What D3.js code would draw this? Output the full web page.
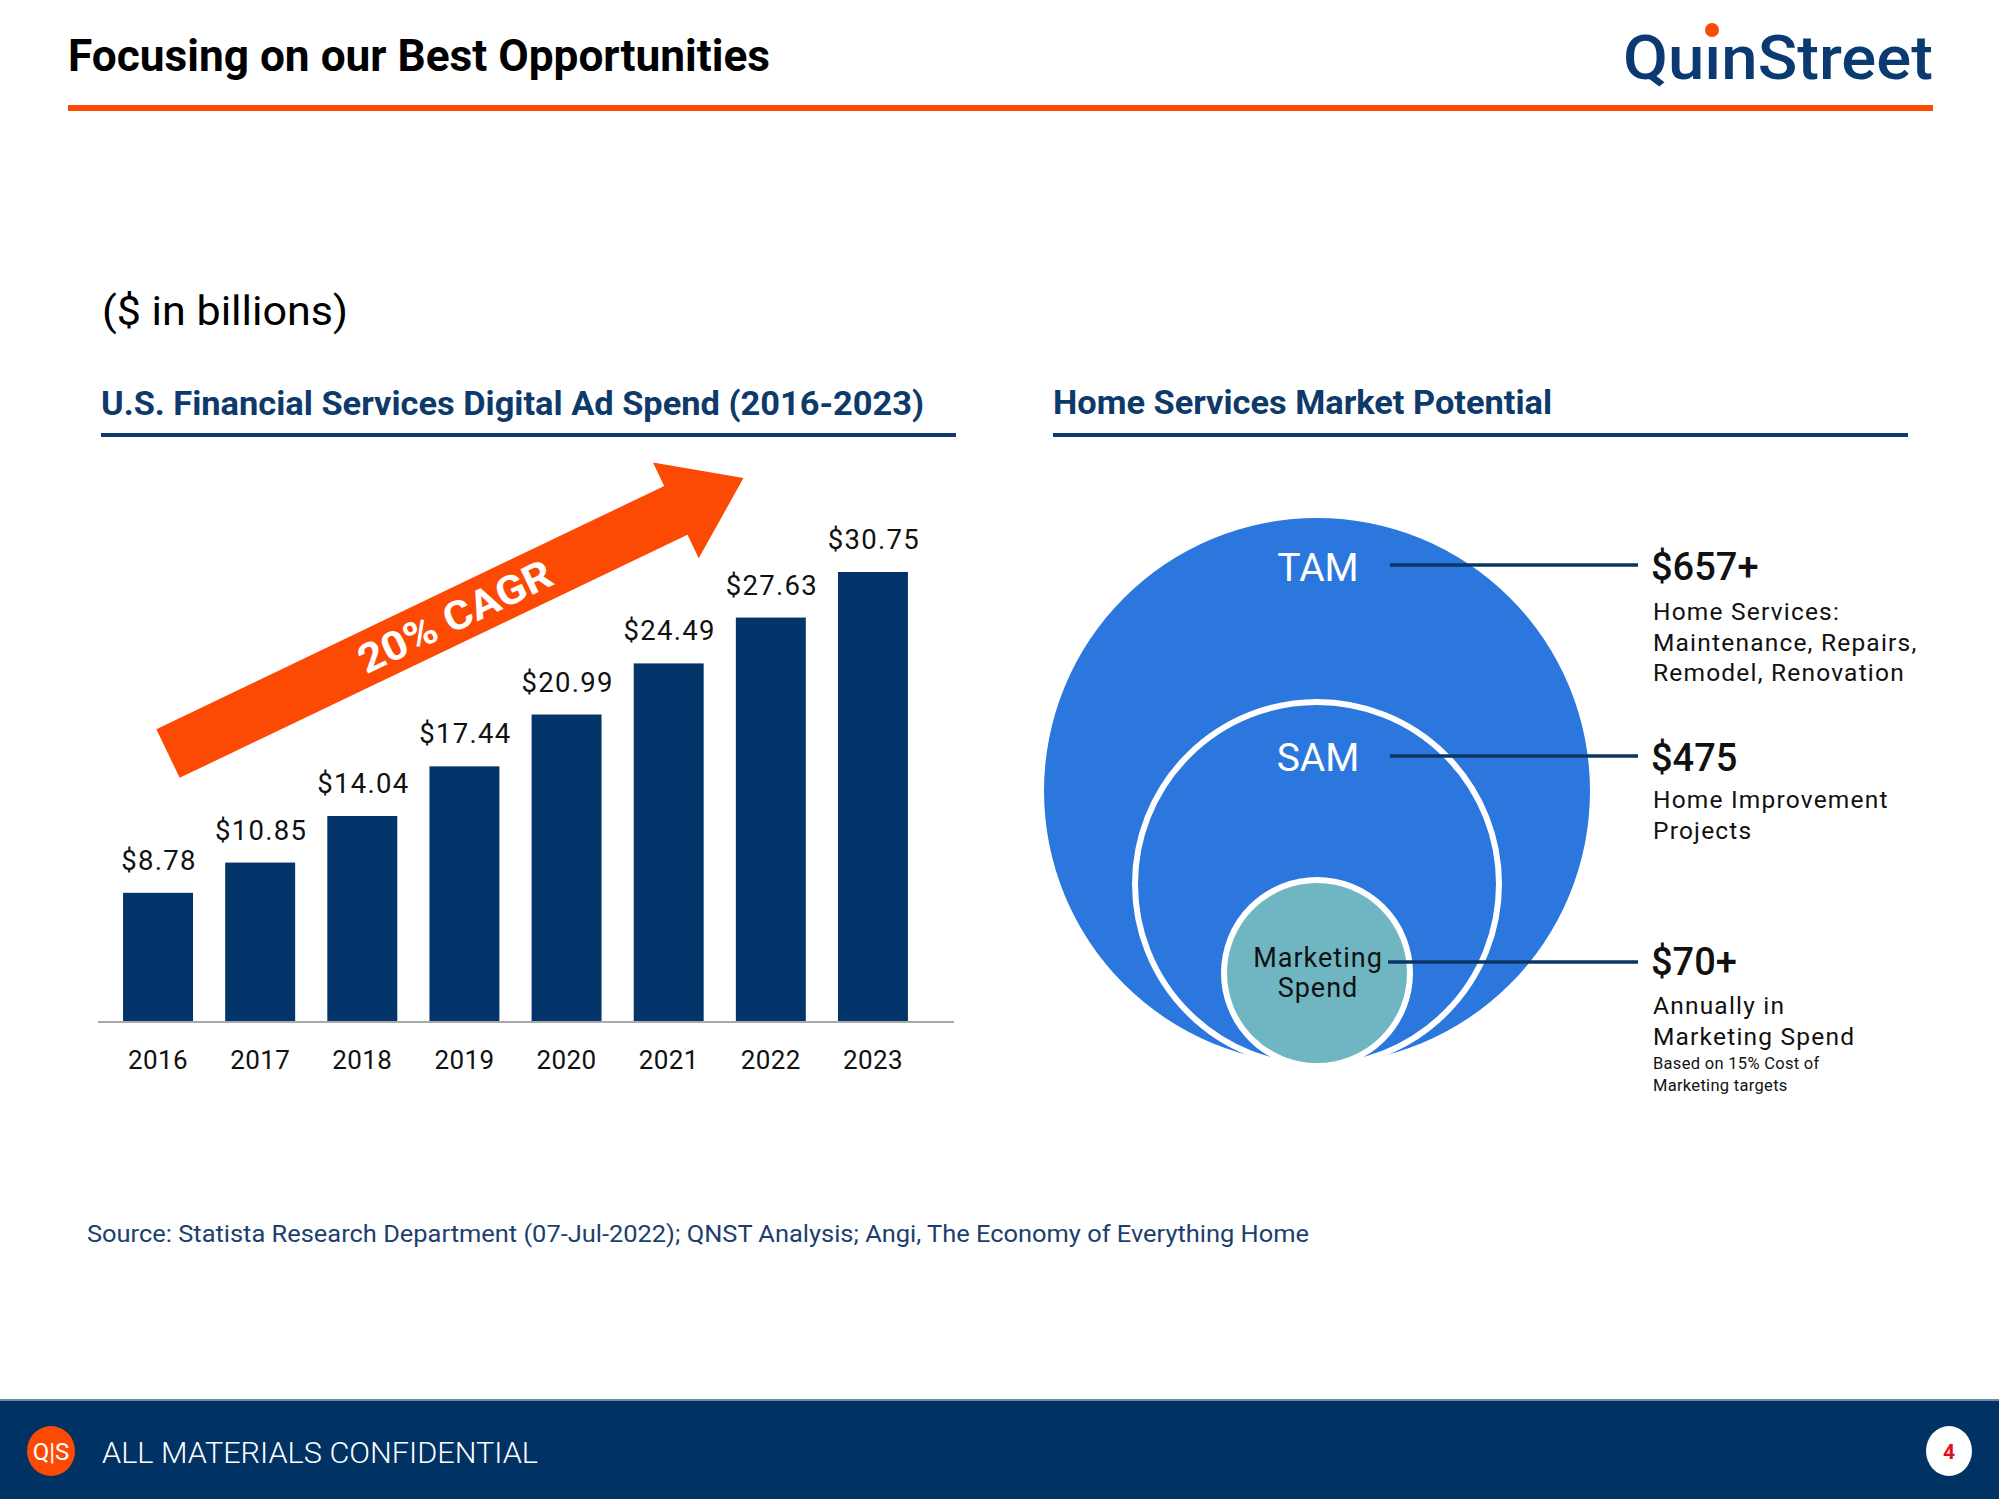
<!DOCTYPE html>
<html>
<head>
<meta charset="utf-8">
<script src="https://cdn.jsdelivr.net/npm/d3@7"></script>
<style>
  html, body { margin: 0; padding: 0; background: #fff; }
  svg { display: block; }
  text { font-family: Roboto, "Noto Sans", sans-serif; }
</style>
</head>
<body>
<svg id="chart" width="1999" height="1499"></svg>
<script>
// ---------- DATA ----------
const years = ['2016', '2017', '2018', '2019', '2020', '2021', '2022', '2023'];
const adSpend = [8.78, 10.85, 14.04, 17.44, 20.99, 24.49, 27.63, 30.75];
const cagrLabel = '20% CAGR';
const marketTiers = ['TAM', 'SAM', 'Marketing Spend'];
const marketValues = ['$657+', '$475', '$70+'];
const marketDescriptions = [
  ['Home Services:', 'Maintenance, Repairs,', 'Remodel, Renovation'],
  ['Home Improvement', 'Projects'],
  ['Annually in', 'Marketing Spend']
];
const marketNotes = [[], [], ['Based on 15% Cost of', 'Marketing targets']];

// ---------- STYLE ----------
const NAVY = '#03356b';
const ORANGE = '#fc4a05';
const BLUE = '#2c77de';
const TEAL = '#70b6c2';

const svg = d3.select('#chart');
function fit(sel, w) { return sel.attr('textLength', w).attr('lengthAdjust', 'spacingAndGlyphs'); }

// ---------- HEADER ----------
fit(svg.append('text').attr('x', 68).attr('y', 71)
  .attr('font-size', 44).attr('font-weight', 700).attr('fill', '#000')
  .text('Focusing on our Best Opportunities'), 702);

fit(svg.append('text').attr('x', 1623).attr('y', 79)
  .attr('font-size', 62).attr('font-weight', 500).attr('fill', '#0b3a73')
  .text('Qu\u0131nStreet'), 310);
svg.append('circle').attr('cx', 1712).attr('cy', 30).attr('r', 7).attr('fill', ORANGE);

svg.append('rect').attr('x', 68).attr('y', 105).attr('width', 1865).attr('height', 6).attr('fill', ORANGE);

fit(svg.append('text').attr('x', 102).attr('y', 325)
  .attr('font-size', 41).attr('font-weight', 400).attr('fill', '#000')
  .text('($ in billions)'), 246);

// section titles
fit(svg.append('text').attr('x', 101).attr('y', 415)
  .attr('font-size', 34).attr('font-weight', 700).attr('fill', '#0d3a6b')
  .text('U.S. Financial Services Digital Ad Spend (2016-2023)'), 823);
svg.append('rect').attr('x', 101).attr('y', 433).attr('width', 855).attr('height', 4).attr('fill', '#0d3a6b');

fit(svg.append('text').attr('x', 1053).attr('y', 414)
  .attr('font-size', 34).attr('font-weight', 700).attr('fill', '#0d3a6b')
  .text('Home Services Market Potential'), 499);
svg.append('rect').attr('x', 1053).attr('y', 433).attr('width', 855).attr('height', 4).attr('fill', '#0d3a6b');

// ---------- BAR CHART ----------
const x = d3.scaleBand().domain(years).range([72, 959]).paddingInner(0.315).paddingOuter(0.5);
const y = d3.scaleLinear().domain([0, 30.75]).range([1021, 572]);

const barG = svg.append('g');
barG.selectAll('rect.bar').data(adSpend).join('rect')
  .attr('class', 'bar')
  .attr('x', (d, i) => x(years[i]))
  .attr('width', x.bandwidth())
  .attr('y', d => y(d))
  .attr('height', d => y(0) - y(d))
  .attr('fill', NAVY);

barG.selectAll('text.val').data(adSpend).join('text')
  .attr('class', 'val')
  .attr('x', (d, i) => x(years[i]) + x.bandwidth() / 2 + 1)
  .attr('y', d => y(d) - 23)
  .attr('text-anchor', 'middle')
  .attr('font-size', 27.5).attr('letter-spacing', 1.3).attr('fill', '#111')
  .text(d => '$' + d.toFixed(2));

svg.append('line').attr('x1', 98).attr('x2', 954).attr('y1', y(0) + 1).attr('y2', y(0) + 1)
  .attr('stroke', '#a9a9a9').attr('stroke-width', 2);

const xAxis = svg.append('g').attr('transform', `translate(0,${y(0)})`)
  .call(d3.axisBottom(x).tickSize(0).tickPadding(30));
xAxis.select('.domain').remove();
xAxis.selectAll('text').attr('font-size', 26).attr('fill', '#111')
  .attr('font-family', 'Roboto, sans-serif').attr('letter-spacing', 0.4);

// CAGR arrow
const tail = [168, 753.5], tip = [743.5, 478];
const ang = Math.atan2(tip[1] - tail[1], tip[0] - tail[0]);
const L = Math.hypot(tip[0] - tail[0], tip[1] - tail[1]);
const sw = 27, hw = 53, hl = 75;
const arrowG = svg.append('g')
  .attr('transform', `translate(${tail[0]},${tail[1]}) rotate(${ang * 180 / Math.PI})`);
const ap = d3.path();
ap.moveTo(0, -sw); ap.lineTo(L - hl, -sw); ap.lineTo(L - hl, -hw); ap.lineTo(L, 0);
ap.lineTo(L - hl, hw); ap.lineTo(L - hl, sw); ap.lineTo(0, sw); ap.closePath();
arrowG.append('path').attr('d', ap.toString()).attr('fill', ORANGE);
fit(arrowG.append('text').attr('x', 318).attr('y', 0).attr('dy', '0.36em')
  .attr('text-anchor', 'middle').attr('font-size', 40).attr('font-weight', 700)
  .attr('fill', '#fff').text(cagrLabel), 210);

// ---------- CIRCLES ----------
const cx = 1317, bottom = 1066;
const radii = [273, 182, 93];
const fills = [BLUE, BLUE, TEAL];
const cG = svg.append('g');
cG.selectAll('circle').data(marketTiers).join('circle')
  .attr('cx', cx)
  .attr('cy', (d, i) => (i === 0 ? bottom - 2 : bottom) - radii[i])
  .attr('r', (d, i) => radii[i])
  .attr('fill', (d, i) => fills[i])
  .attr('stroke', (d, i) => i === 0 ? 'none' : '#fff')
  .attr('stroke-width', 6);

// labels in circles
cG.append('text').attr('x', cx + 1).attr('y', 581).attr('text-anchor', 'middle')
  .attr('font-size', 39).attr('fill', '#fff').text(marketTiers[0]);
cG.append('text').attr('x', cx + 1).attr('y', 771).attr('text-anchor', 'middle')
  .attr('font-size', 39).attr('fill', '#fff').text(marketTiers[1]);
const mWords = marketTiers[2].split(' ');
cG.selectAll('text.m').data(mWords).join('text').attr('class', 'm')
  .attr('x', cx + 1).attr('y', (d, i) => 967 + i * 30).attr('text-anchor', 'middle')
  .attr('font-size', 27).attr('letter-spacing', 1).attr('fill', '#111').text(d => d);

// connectors
const lineY = [565, 756, 962];
const lineX0 = [1390, 1390, 1388];
svg.selectAll('line.conn').data(lineY).join('line').attr('class', 'conn')
  .attr('x1', (d, i) => lineX0[i]).attr('x2', 1638)
  .attr('y1', d => d).attr('y2', d => d)
  .attr('stroke', '#0b3564').attr('stroke-width', 3.5);

// right text blocks
const valY = [580, 771, 975];
const descY0 = [620, 808, 1014];
marketValues.forEach((v, i) => {
  svg.append('text').attr('x', 1651).attr('y', valY[i])
    .attr('font-size', 38).attr('font-weight', 500).attr('fill', '#111').text(v);
  svg.selectAll(null).data(marketDescriptions[i]).join('text')
    .attr('x', 1653).attr('y', (d, j) => descY0[i] + j * 30.5)
    .attr('font-size', 24.5).attr('letter-spacing', 1.2).attr('fill', '#111').text(d => d);
  const ny = descY0[i] + marketDescriptions[i].length * 30.5 - 6;
  svg.selectAll(null).data(marketNotes[i]).join('text')
    .attr('x', 1653).attr('y', (d, j) => ny + j * 22)
    .attr('font-size', 16.5).attr('letter-spacing', 0.3).attr('fill', '#111').text(d => d);
});

// ---------- SOURCE ----------
fit(svg.append('text').attr('x', 87).attr('y', 1242)
  .attr('font-size', 24).attr('fill', '#1d3f6e')
  .text('Source: Statista Research Department (07-Jul-2022); QNST Analysis; Angi, The Economy of Everything Home'), 1222);

// ---------- FOOTER ----------
svg.append('rect').attr('x', 0).attr('y', 1400).attr('width', 1999).attr('height', 99).attr('fill', '#013264');
svg.append('rect').attr('x', 0).attr('y', 1399).attr('width', 1999).attr('height', 2).attr('fill', '#6f8aa5');
svg.append('ellipse').attr('cx', 51).attr('cy', 1451).attr('rx', 24).attr('ry', 25).attr('fill', ORANGE);
svg.append('text').attr('x', 51).attr('y', 1460).attr('text-anchor', 'middle')
  .attr('font-size', 24).attr('fill', '#fff').text('Q|S');
fit(svg.append('text').attr('x', 102).attr('y', 1463)
  .attr('font-size', 29).attr('font-weight', 300).attr('fill', '#fff')
  .text('ALL MATERIALS CONFIDENTIAL'), 436);
svg.append('ellipse').attr('cx', 1949).attr('cy', 1451).attr('rx', 23).attr('ry', 25).attr('fill', '#fff');
svg.append('text').attr('x', 1949).attr('y', 1459).attr('text-anchor', 'middle')
  .attr('font-size', 21).attr('font-weight', 700).attr('fill', '#e0101f').text('4');
</script>
</body>
</html>
